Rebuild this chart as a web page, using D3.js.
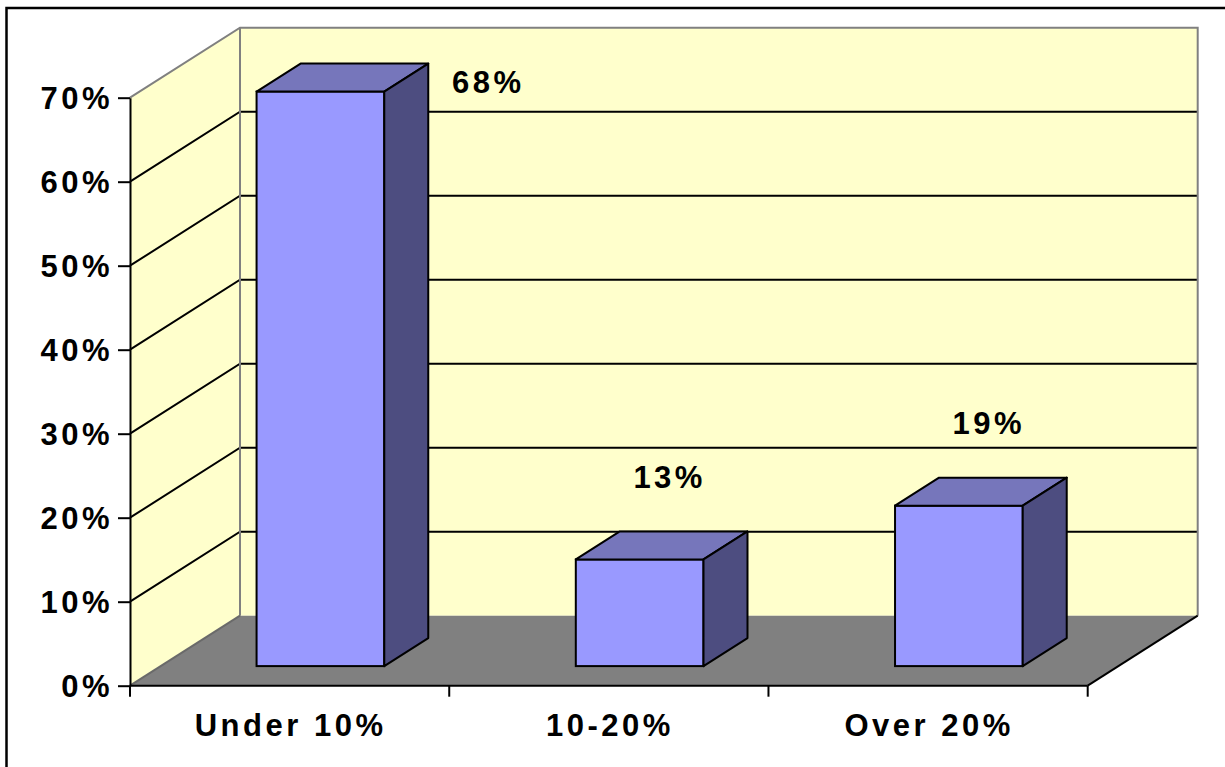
<!DOCTYPE html>
<html>
<head>
<meta charset="utf-8">
<script src="https://cdn.jsdelivr.net/npm/d3@7"></script>
<style>
body { margin:0; background:#fff; }
text { font-family: Arial, "Liberation Sans", sans-serif; font-weight: bold; fill:#000; }
</style>
</head>
<body>
<div class="chart"></div>
<script>
const categories = ["Under 10%", "10-20%", "Over 20%"];
const values = [0.684, 0.127, 0.191];
const labels = ["68%", "13%", "19%"];
const yTicks = [0, 0.1, 0.2, 0.3, 0.4, 0.5, 0.6, 0.7];

const width = 1225, height = 767;
// 3d depth of the plot box and where the bars sit inside it
const depthX = 110, depthY = -70;
const barFront = 0.28, barBack = 0.68;

const svg = d3.select(".chart").append("svg")
    .attr("width", width)
    .attr("height", height);

// outer chart border
svg.append("rect")
    .attr("x", 6.5).attr("y", 8)
    .attr("width", 1300).attr("height", 900)
    .attr("fill", "#fff")
    .attr("stroke", "#000")
    .attr("stroke-width", 2.5);

const xScale = d3.scaleBand()
    .domain(categories)
    .range([130, 1087.7])
    .paddingInner(0.6)
    .paddingOuter(0.3);
const yScale = d3.scaleLinear()
    .domain([0, 0.7])
    .range([685.7, 97.7]);

const x0 = 130, x1 = 1087.7;
const y0 = yScale(0), yTop = yScale(0.7);
const pt = (x, y, d) => [x + d * depthX, y + d * depthY];

// walls
svg.append("polygon")
    .attr("points", [[x0, y0], [x0, yTop], pt(x0, yTop, 1), pt(x0, y0, 1)].join(" "))
    .attr("fill", "#ffffcc");
svg.append("polygon")
    .attr("points", [pt(x0, yTop, 1), pt(x1, yTop, 1), pt(x1, y0, 1), pt(x0, y0, 1)].join(" "))
    .attr("fill", "#ffffcc");

// gridlines on side + back wall
const grid = yTicks.filter(d => d > 0 && d < 0.7);
svg.selectAll(".grid")
    .data(grid)
    .enter()
    .append("polyline")
    .attr("class", "grid")
    .attr("points", d => [[x0, yScale(d)], pt(x0, yScale(d), 1), pt(x1, yScale(d), 1)].join(" "))
    .attr("fill", "none")
    .attr("stroke", "#000")
    .attr("stroke-width", 2);

// floor
svg.append("polygon")
    .attr("points", [[x0, y0], [x1, y0], pt(x1, y0, 1), pt(x0, y0, 1)].join(" "))
    .attr("fill", "#808080");

// wall edges (gray)
svg.append("polyline")
    .attr("points", [[x0, yTop], pt(x0, yTop, 1), pt(x1, yTop, 1), pt(x1, y0, 1)].join(" "))
    .attr("fill", "none")
    .attr("stroke", "#808080")
    .attr("stroke-width", 2);
svg.append("line")
    .attr("x1", pt(x0, yTop, 1)[0]).attr("y1", pt(x0, yTop, 1)[1])
    .attr("x2", pt(x0, y0, 1)[0]).attr("y2", pt(x0, y0, 1)[1])
    .attr("stroke", "#808080")
    .attr("stroke-width", 2);
svg.append("line")
    .attr("x1", x0).attr("y1", y0)
    .attr("x2", pt(x0, y0, 1)[0]).attr("y2", pt(x0, y0, 1)[1])
    .attr("stroke", "#6a6a6a")
    .attr("stroke-width", 2);
svg.append("line")
    .attr("x1", x1).attr("y1", y0)
    .attr("x2", pt(x1, y0, 1)[0]).attr("y2", pt(x1, y0, 1)[1])
    .attr("stroke", "#000")
    .attr("stroke-width", 2);

// bars
const bw = xScale.bandwidth();
const bars = svg.selectAll(".bar")
    .data(categories.map((c, i) => ({c, v: values[i], label: labels[i]})))
    .enter()
    .append("g")
    .attr("class", "bar");

const fx0 = d => pt(xScale(d.c), 0, barFront)[0];
const fTop = d => pt(0, yScale(d.v), barFront)[1];
const fBot = pt(0, y0, barFront)[1];
const ddx = (barBack - barFront) * depthX, ddy = (barBack - barFront) * depthY;

bars.append("rect")
    .attr("x", fx0)
    .attr("y", fTop)
    .attr("width", bw)
    .attr("height", d => fBot - fTop(d))
    .attr("fill", "#9999ff")
    .attr("stroke", "#000")
    .attr("stroke-width", 2);
bars.append("polygon")
    .attr("points", d => [[fx0(d), fTop(d)], [fx0(d) + bw, fTop(d)], [fx0(d) + bw + ddx, fTop(d) + ddy], [fx0(d) + ddx, fTop(d) + ddy]].join(" "))
    .attr("fill", "#7676bb")
    .attr("stroke", "#000")
    .attr("stroke-width", 2)
    .attr("stroke-linejoin", "round");
bars.append("polygon")
    .attr("points", d => [[fx0(d) + bw, fTop(d)], [fx0(d) + bw + ddx, fTop(d) + ddy], [fx0(d) + bw + ddx, fBot + ddy], [fx0(d) + bw, fBot]].join(" "))
    .attr("fill", "#4d4d80")
    .attr("stroke", "#000")
    .attr("stroke-width", 2)
    .attr("stroke-linejoin", "round");

// data labels, pushed beside the bar when they'd leave the plot
const minY = yTop - 16;
bars.append("text")
    .attr("text-anchor", "middle")
    .attr("font-size", 31)
    .attr("letter-spacing", 3.5)
    .attr("dy", "0.36em")
    .attr("x", d => fTop(d) - 83 < minY ? fx0(d) + bw + ddx + 60 : fx0(d) + bw / 2 + 30)
    .attr("y", d => Math.max(fTop(d) - 83, minY))
    .text(d => d.label);

// y axis
const yAxis = d3.axisLeft(yScale)
    .tickValues(yTicks)
    .tickFormat(d3.format(".0%"))
    .tickSize(12)
    .tickSizeOuter(0)
    .tickPadding(5);
const ya = svg.append("g")
    .attr("class", "axis y-axis")
    .attr("transform", `translate(${x0},0)`)
    .call(yAxis);
ya.select(".domain").attr("stroke", "#000").attr("stroke-width", 2);
ya.selectAll(".tick line").attr("stroke", "#000").attr("stroke-width", 2);
ya.selectAll(".tick text")
    .attr("font-size", 31)
    .attr("letter-spacing", 3.5)
    .attr("font-family", "Arial, 'Liberation Sans', sans-serif")
    .attr("font-weight", "bold")
    .attr("fill", "#000")
    .attr("dy", "0.36em");

// x axis line + ticks at category boundaries
svg.append("line")
    .attr("x1", x0).attr("x2", x1)
    .attr("y1", y0).attr("y2", y0)
    .attr("stroke", "#000")
    .attr("stroke-width", 2);
const bounds = d3.range(categories.length + 1).map(i => x0 + i * xScale.step());
svg.selectAll(".xtick")
    .data(bounds)
    .enter()
    .append("line")
    .attr("class", "xtick")
    .attr("x1", d => d).attr("x2", d => d)
    .attr("y1", y0).attr("y2", y0 + 11)
    .attr("stroke", "#000")
    .attr("stroke-width", 2);
svg.selectAll(".xlabel")
    .data(categories)
    .enter()
    .append("text")
    .attr("class", "xlabel")
    .attr("text-anchor", "middle")
    .attr("font-size", 31)
    .attr("letter-spacing", 3.5)
    .attr("x", d => xScale(d) + bw / 2 + 1)
    .attr("y", 736)
    .text(d => d);
</script>
</body>
</html>
